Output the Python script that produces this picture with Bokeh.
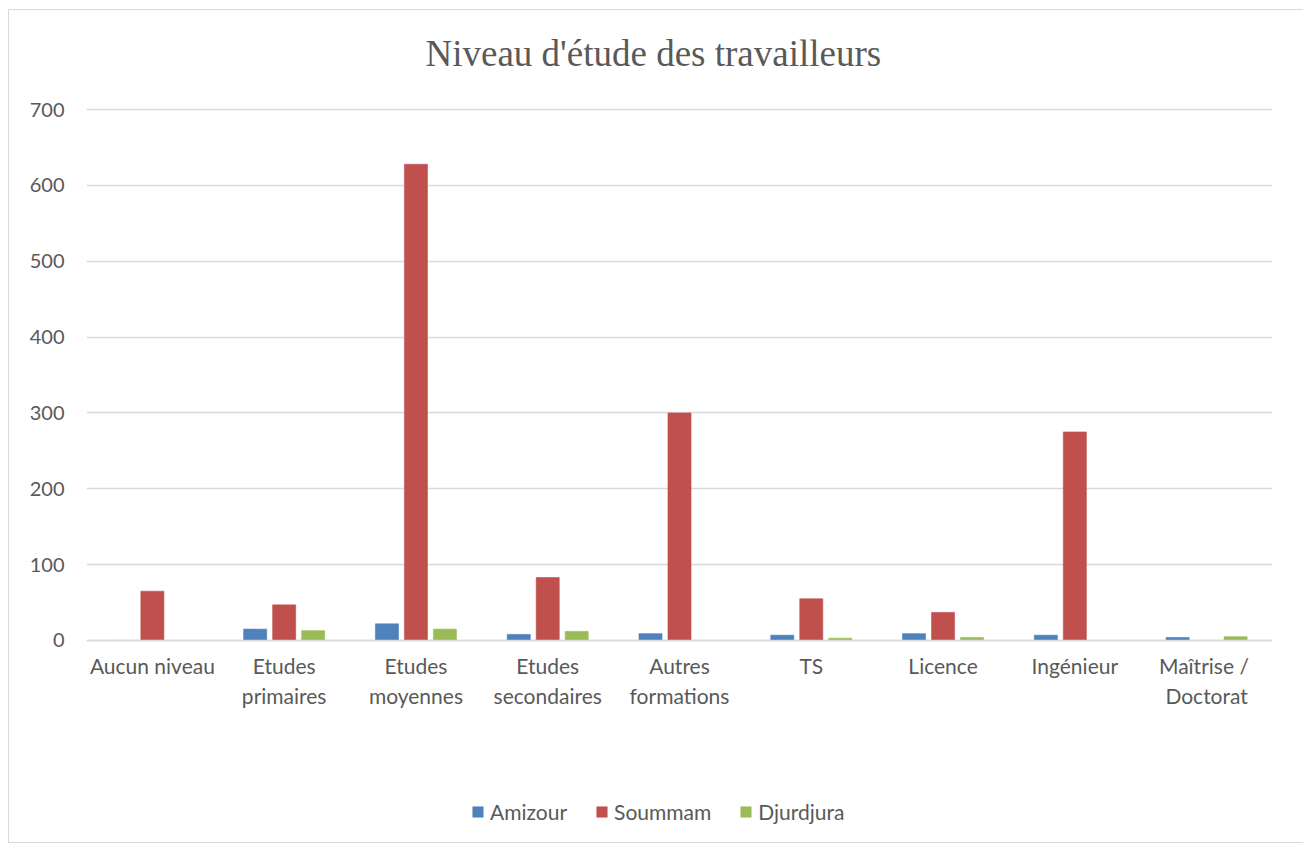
from bokeh.plotting import figure
from bokeh.models import ColumnDataSource, FactorRange, Range1d, FixedTicker, Legend, LegendItem
from bokeh.transform import dodge
from bokeh.embed import file_html
from bokeh.resources import INLINE

categories = ["Aucun niveau", "Etudes\nprimaires", "Etudes\nmoyennes", "Etudes\nsecondaires",
              "Autres\nformations", "TS", "Licence", "Ingénieur", "Maîtrise  /\nDoctorat"]
series_names = ["Amizour", "Soummam", "Djurdjura"]
amizour = [0, 15, 22, 8, 9, 7, 9, 7, 4]
soummam = [65, 47, 628, 83, 300, 55, 37, 275, 0]
djurdjura = [0, 13, 15, 12, 0, 3, 4, 0, 5]
y_ticks = [0, 100, 200, 300, 400, 500, 600, 700]
colors = ["#4F81BD", "#C0504D", "#9BBB59"]

source = ColumnDataSource(dict(cat=categories, Amizour=amizour, Soummam=soummam, Djurdjura=djurdjura))

# frame extends below zero to hold the legend; the x axis sits at y = 0
p = figure(x_range=FactorRange(*categories), y_range=Range1d(-266.4, 720),
           frame_width=1186, frame_height=748, output_backend="svg", toolbar_location=None,
           min_border_left=77, min_border_right=31, min_border_top=84, min_border_bottom=0)
p.margin = (9, 0, 0, 8)

p.title.text = "Niveau d'étude des travailleurs"
p.title.align = "left"
p.title.offset = 339
p.title.text_font = "Liberation Serif"
p.title.text_font_size = "37px"
p.title.text_font_style = "normal"
p.title.text_color = "#595959"
p.title.standoff = 41

offsets = [-0.22, 0.0, 0.22]
renderers = []
for name, off, col in zip(series_names, offsets, colors):
    r = p.vbar(x=dodge("cat", off, range=p.x_range), top=name, width=0.175, source=source,
               fill_color=col, line_color=col, line_alpha=0.6)
    renderers.append(r)

p.outline_line_color = None
p.xgrid.grid_line_color = None
p.ygrid.grid_line_color = "#D9D9D9"
p.ygrid.grid_line_width = 1.3

p.yaxis.ticker = FixedTicker(ticks=y_ticks)
p.yaxis.axis_line_color = None
p.yaxis.major_tick_line_color = None
p.yaxis.minor_tick_line_color = None
p.yaxis.major_label_text_font = "Lato"
p.yaxis.major_label_text_font_size = "20px"
p.yaxis.major_label_text_color = "#595959"
p.yaxis.major_label_standoff = 16

p.xaxis.fixed_location = 0
p.xaxis.axis_line_color = "#D9D9D9"
p.xaxis.axis_line_width = 1.3
p.xaxis.major_tick_line_color = None
p.xaxis.minor_tick_line_color = None
p.xaxis.major_label_text_font = "Lato"
p.xaxis.major_label_text_font_size = "21px"
p.xaxis.major_label_text_color = "#595959"
p.xaxis.major_label_standoff = 7
p.xaxis.major_label_orientation = "horizontal"

legend = Legend(items=[LegendItem(label=n, renderers=[r]) for n, r in zip(series_names, renderers)],
                orientation="horizontal", location=(385, 18))
legend.border_line_color = None
legend.background_fill_alpha = 0
legend.padding = 0
legend.margin = 0
legend.label_text_font = "Lato"
legend.label_text_font_size = "21px"
legend.label_text_color = "#595959"
legend.label_standoff = 6
legend.glyph_width = 13
legend.glyph_height = 13
legend.spacing = 28
p.add_layout(legend, "center")

p.styles = {"border": "1px solid #D9D9D9"}

open("out.html", "w").write(file_html(p, INLINE))
